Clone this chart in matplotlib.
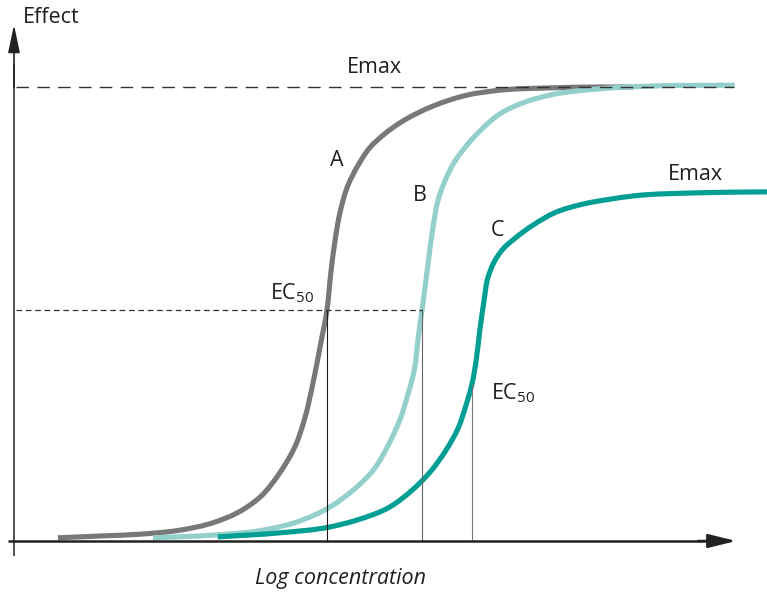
import matplotlib
matplotlib.use("Agg")
import numpy as np
import matplotlib.pyplot as plt
from matplotlib.path import Path
from matplotlib.patches import PathPatch

plt.rcParams['font.family'] = ['Open Sans', 'DejaVu Sans']
plt.rcParams['mathtext.fontset'] = 'custom'
plt.rcParams['mathtext.rm'] = 'Open Sans'
plt.rcParams['mathtext.it'] = 'Open Sans:italic'

# Curve data (x: log concentration units, y: effect in % of Emax)
A_x = [0.61, 1.19, 1.75, 2.31, 2.76, 3.10, 3.42, 3.69, 3.90, 4.04, 4.15, 4.25, 4.347, 4.40,
       4.46, 4.53, 4.64, 4.78, 4.94, 5.15, 5.36, 5.82, 6.29, 6.75, 7.44, 8.14, 8.6]
A_y = [0.7, 1.1, 1.5, 2.4, 4.0, 6.2, 9.7, 15.0, 20.7, 27.1, 34.6, 42.7, 50.9, 59.0,
       66.3, 72.5, 78.4, 82.8, 86.6, 89.7, 92.1, 95.8, 98.2, 99.3, 99.8, 100.0, 100.0]

B_x = [1.93, 2.76, 3.46, 3.93, 4.39, 4.71, 4.99, 5.22, 5.36, 5.47, 5.56, 5.61, 5.667, 5.74,
       5.82, 5.89, 5.99, 6.11, 6.28, 6.47, 6.75, 7.10, 7.44, 8.14, 8.83, 10.01]
B_y = [0.7, 1.3, 2.4, 4.2, 7.5, 11.2, 15.6, 21.8, 26.7, 32.2, 37.7, 44.3, 50.9, 59.7,
       69.2, 75.1, 79.5, 83.3, 87.0, 90.3, 94.1, 96.7, 98.2, 99.6, 100.2, 100.4]

C_x = [2.83, 3.69, 4.39, 4.76, 5.22, 5.53, 5.78, 6.00, 6.17, 6.28, 6.361, 6.42, 6.47, 6.53,
       6.58, 6.67, 6.79, 6.96, 7.21, 7.51, 7.90, 8.28, 8.60, 9.53, 10.46]
C_y = [0.9, 1.8, 3.1, 4.6, 7.5, 11.2, 15.2, 20.0, 24.9, 30.0, 34.6, 39.9, 46.5, 53.1,
       57.9, 61.5, 64.3, 66.7, 69.6, 72.3, 74.2, 75.3, 76.0, 76.7, 76.9]

EMAX = 100.0
EC50_level = 50.9
EC50_x = [4.347, 5.667, 6.361]
EC50_y = [50.9, 50.9, 34.6]
EC50_colors = ['#1a1a1a', '#666666', '#777777']

col_A = '#787878'
col_B = '#93cfcb'
col_C = '#009e93'
txt = '#231f20'

fig = plt.figure(figsize=(7.67, 5.93), dpi=100)
ax = fig.add_axes([0, 0, 1, 1])
ax.set_xlim(-14 / 72, (767 - 14) / 72)
ax.set_ylim((541 - 593) / 4.54, 541 / 4.54)
ax.axis('off')


def smooth_curve(xs, ys, color, lw, z):
    """Draw a smooth curve through the data points (cubic Bezier segments, Bessel tangents)."""
    pts = ax.transData.transform(np.column_stack([xs, ys]))
    n = len(pts)
    d = np.diff(pts, axis=0)
    h = np.hypot(d[:, 0], d[:, 1]) + 1e-9
    u = d / h[:, None]
    tang = [u[0]]
    for i in range(1, n - 1):
        m = (h[i] * u[i - 1] + h[i - 1] * u[i]) / (h[i - 1] + h[i])
        tang.append(m / (np.hypot(*m) + 1e-9))
    tang.append(u[-1])
    verts = [pts[0]]
    codes = [Path.MOVETO]
    for i in range(n - 1):
        c1 = pts[i] + tang[i] * h[i] / 3
        c2 = pts[i + 1] - tang[i + 1] * h[i] / 3
        verts += [c1, c2, pts[i + 1]]
        codes += [Path.CURVE4] * 3
    verts = ax.transData.inverted().transform(np.array(verts))
    patch = PathPatch(Path(verts, codes), fill=False, edgecolor=color, lw=lw,
                      capstyle='butt', joinstyle='round', zorder=z)
    ax.add_patch(patch)


# curves
smooth_curve(A_x, A_y, col_A, 3.7, 3)
smooth_curve(B_x, B_y, col_B, 3.7, 4)
smooth_curve(C_x, C_y, col_C, 3.7, 5)

# reference lines (drawn over the curves)
ax.plot([0.03, 10.0], [EMAX, EMAX], color='#333333', lw=1.0, dashes=(9, 6), zorder=7)
ax.plot([0.03, EC50_x[1]], [EC50_level, EC50_level], color='#333333', lw=0.9, dashes=(4.5, 3), zorder=7)
for xv, yv, c in zip(EC50_x, EC50_y, EC50_colors):
    ax.plot([xv, xv], [0, yv], color=c, lw=0.8, zorder=6)

# axes with arrows
ax.plot([0, 0], [-3.3, 105], color='#333333', lw=1.2, zorder=8, solid_capstyle='butt')
ax.annotate('', xy=(0, 113.7), xytext=(0, 100), zorder=8,
            arrowprops=dict(arrowstyle='-|>,head_length=1.7,head_width=0.36', mutation_scale=10,
                            color='#222222', lw=1.2, shrinkA=0, shrinkB=0))
ax.plot([-0.08, 9.8], [0, 0], color='#222222', lw=1.8, zorder=8, solid_capstyle='butt')
ax.annotate('', xy=(10.03, 0), xytext=(9.5, 0), zorder=8,
            arrowprops=dict(arrowstyle='-|>,head_length=1.7,head_width=0.42', mutation_scale=10,
                            color='#222222', lw=1.8, shrinkA=0, shrinkB=0))

fs = 15.5
ax.text(0.52, 115.4, 'Effect', fontsize=fs, color=txt, ha='center', va='center')
ax.text(5.0, 104.2, 'Emax', fontsize=fs, color=txt, ha='center', va='center')
ax.text(9.46, 80.8, 'Emax', fontsize=fs, color=txt, ha='center', va='center')
ax.text(4.486, 83.9, 'A', fontsize=fs, color=txt, ha='center', va='center')
ax.text(5.639, 76.2, 'B', fontsize=fs, color=txt, ha='center', va='center')
ax.text(6.722, 68.5, 'C', fontsize=fs, color=txt, ha='center', va='center')
ax.text(3.861, 54.6, r'EC$_{50}$', fontsize=fs, color=txt, ha='center', va='center')
ax.text(6.93, 32.6, r'EC$_{50}$', fontsize=fs, color=txt, ha='center', va='center')
ax.text(4.528, -8.15, 'Log concentration', fontsize=fs, color=txt, ha='center', va='center',
        style='italic')

fig.savefig('out.png', dpi=100)
